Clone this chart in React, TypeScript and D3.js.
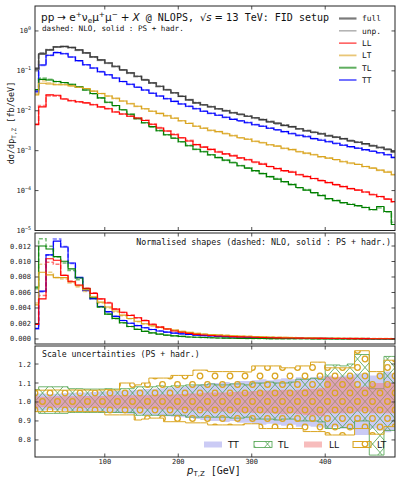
import React from 'react';
import * as d3 from 'd3';

// bin centres of the pT,Z histogram [GeV], 10 GeV wide bins
const ptBins = d3.range(5, 500, 10);
const xTicks = [100, 200, 300, 400];
const topTicks = [1e-5, 1e-4, 1e-3, 1e-2, 1e-1, 1];
const topTickExp = ['\u22125', '\u22124', '\u22123', '\u22122', '\u22121', '0'];
const midTicks = [0, 0.002, 0.004, 0.006, 0.008, 0.01, 0.012];
const botTicks = [0.8, 0.9, 1.0, 1.1, 1.2];

// dsigma/dpT,Z [fb/GeV], PS + hadr. (solid)
const fullPS = [0.112, 0.266, 0.335, 0.398, 0.41, 0.387, 0.335, 0.282, 0.224, 0.188, 0.158, 0.13, 0.106, 0.089, 0.073, 0.0596, 0.05, 0.041, 0.0335, 0.0282, 0.023, 0.0188, 0.0158, 0.0141, 0.0126, 0.0112, 0.01, 0.0089, 0.0082, 0.0073, 0.0067, 0.006, 0.0053, 0.0049, 0.0043, 0.004, 0.00355, 0.00316, 0.0029, 0.00266, 0.00237, 0.00218, 0.002, 0.00178, 0.00163, 0.0015, 0.00133, 0.00122, 0.00109, 0.00094];
const unpPS = [0.108, 0.26, 0.33, 0.392, 0.405, 0.38, 0.33, 0.279, 0.222, 0.186, 0.156, 0.128, 0.105, 0.088, 0.072, 0.059, 0.0495, 0.0405, 0.0332, 0.0279, 0.0228, 0.0187, 0.0157, 0.014, 0.0125, 0.0111, 0.0099, 0.0088, 0.0081, 0.0072, 0.0066, 0.0059, 0.0052, 0.0048, 0.0042, 0.0039, 0.0035, 0.0031, 0.00285, 0.0026, 0.00232, 0.00213, 0.00196, 0.00174, 0.0016, 0.00146, 0.0013, 0.00119, 0.00106, 0.00091];
const llPS = [0.0045, 0.0125, 0.025, 0.0245, 0.0198, 0.0178, 0.0168, 0.0158, 0.0142, 0.0125, 0.0112, 0.0093, 0.0083, 0.0073, 0.0066, 0.0057, 0.0046, 0.0037, 0.0031, 0.0025, 0.0021, 0.00175, 0.00142, 0.00123, 0.00108, 0.00093, 0.00083, 0.00074, 0.00066, 0.00059, 0.00052, 0.00046, 0.0004, 0.000355, 0.000316, 0.00029, 0.00025, 0.000224, 0.0002, 0.000178, 0.000158, 0.000141, 0.000126, 0.000112, 0.000103, 0.000092, 0.000079, 0.000071, 0.000061, 0.000053];
const ltPS = [0.025, 0.049, 0.047, 0.045, 0.045, 0.042, 0.039, 0.036, 0.031, 0.027, 0.0235, 0.0205, 0.0175, 0.015, 0.013, 0.0112, 0.0097, 0.0086, 0.0075, 0.0065, 0.0056, 0.0048, 0.0041, 0.00365, 0.00326, 0.003, 0.00266, 0.00237, 0.00211, 0.00194, 0.00173, 0.00158, 0.00141, 0.0013, 0.00115, 0.00106, 0.00094, 0.00087, 0.00079, 0.00071, 0.00065, 0.0006, 0.00053, 0.00049, 0.00045, 0.0004, 0.000365, 0.000326, 0.00029, 0.00025];
const tlPS = [0.034, 0.061, 0.059, 0.054, 0.051, 0.046, 0.04, 0.033, 0.027, 0.021, 0.0163, 0.0135, 0.0106, 0.0082, 0.0063, 0.005, 0.004, 0.00316, 0.00251, 0.00205, 0.00168, 0.00133, 0.00109, 0.00094, 0.00079, 0.00067, 0.00058, 0.0005, 0.00042, 0.000365, 0.000316, 0.000266, 0.000224, 0.000194, 0.000168, 0.000141, 0.000119, 0.000103, 0.000089, 0.000075, 0.000063, 0.000056, 0.00005, 0.0000447, 0.000042, 0.0000376, 0.0000335, 0.0000398, 0.00003, 0.0000141];
const ttPS = [0.031, 0.14, 0.246, 0.286, 0.269, 0.222, 0.18, 0.142, 0.118, 0.095, 0.08, 0.066, 0.054, 0.046, 0.039, 0.033, 0.0275, 0.0235, 0.02, 0.0172, 0.0148, 0.013, 0.0112, 0.0097, 0.0087, 0.0077, 0.0069, 0.0061, 0.0056, 0.005, 0.00447, 0.0041, 0.00365, 0.00335, 0.003, 0.00266, 0.00244, 0.00224, 0.002, 0.00183, 0.00168, 0.00154, 0.00137, 0.00126, 0.00115, 0.00106, 0.00097, 0.00089, 0.00079, 0.00067];

// same at NLO (dashed)
const fullNLO = [0.118, 0.28, 0.34, 0.4, 0.405, 0.38, 0.33, 0.28, 0.222, 0.186, 0.157, 0.129, 0.106, 0.088, 0.073, 0.06, 0.0495, 0.041, 0.0338, 0.028, 0.0232, 0.019, 0.0159, 0.014, 0.0127, 0.0111, 0.0101, 0.009, 0.0081, 0.0074, 0.0066, 0.0061, 0.0054, 0.0048, 0.0044, 0.004, 0.0035, 0.0032, 0.0029, 0.0027, 0.0024, 0.0022, 0.002, 0.0018, 0.00165, 0.00148, 0.00135, 0.0012, 0.0011, 0.00096];
const unpNLO = [0.114, 0.274, 0.335, 0.394, 0.4, 0.375, 0.326, 0.277, 0.22, 0.184, 0.155, 0.127, 0.104, 0.087, 0.072, 0.059, 0.049, 0.0405, 0.0334, 0.0277, 0.023, 0.0188, 0.0157, 0.0139, 0.0126, 0.011, 0.01, 0.0089, 0.008, 0.0073, 0.0065, 0.006, 0.0053, 0.0047, 0.0043, 0.0039, 0.00345, 0.0031, 0.00285, 0.0026, 0.00235, 0.00215, 0.00196, 0.00176, 0.00161, 0.00145, 0.00132, 0.00118, 0.00107, 0.00093];
const llNLO = [0.0047, 0.0135, 0.0238, 0.0232, 0.0198, 0.018, 0.0166, 0.0157, 0.0143, 0.0124, 0.0113, 0.0094, 0.0082, 0.0074, 0.0065, 0.0058, 0.0046, 0.0038, 0.0031, 0.0026, 0.0021, 0.0018, 0.00141, 0.00124, 0.00107, 0.00094, 0.00082, 0.00076, 0.00065, 0.0006, 0.00051, 0.00047, 0.0004, 0.00036, 0.00031, 0.0003, 0.00025, 0.00023, 0.0002, 0.00018, 0.00016, 0.00014, 0.000128, 0.000112, 0.000104, 0.000091, 0.00008, 0.00007, 0.000062, 0.000052];
const ltNLO = [0.027, 0.056, 0.05, 0.046, 0.045, 0.042, 0.039, 0.0355, 0.031, 0.027, 0.0233, 0.0203, 0.0175, 0.0151, 0.0129, 0.0112, 0.0098, 0.0085, 0.0075, 0.0066, 0.0056, 0.0049, 0.0041, 0.0037, 0.0032, 0.003, 0.0027, 0.0024, 0.0021, 0.00196, 0.00172, 0.0016, 0.0014, 0.00132, 0.00114, 0.00107, 0.00095, 0.00086, 0.0008, 0.0007, 0.00066, 0.00059, 0.00054, 0.00048, 0.00046, 0.0004, 0.00037, 0.00032, 0.0003, 0.00025];
const tlNLO = [0.033, 0.066, 0.061, 0.054, 0.05, 0.045, 0.039, 0.0328, 0.0265, 0.0208, 0.0162, 0.0133, 0.0105, 0.0082, 0.0064, 0.005, 0.0039, 0.0032, 0.0025, 0.00208, 0.00166, 0.00135, 0.00108, 0.00095, 0.00078, 0.00068, 0.00057, 0.00051, 0.00042, 0.00037, 0.00031, 0.00027, 0.000222, 0.000198, 0.000165, 0.000144, 0.000117, 0.000105, 0.000088, 0.000077, 0.000062, 0.000057, 0.000049, 0.000046, 0.000041, 0.000038, 0.000033, 0.000037, 0.000029, 0.000016];
const ttNLO = [0.029, 0.138, 0.245, 0.292, 0.27, 0.22, 0.178, 0.141, 0.117, 0.095, 0.079, 0.066, 0.054, 0.0458, 0.0392, 0.0328, 0.0276, 0.0233, 0.0201, 0.0171, 0.0149, 0.0129, 0.0113, 0.0098, 0.0086, 0.0078, 0.0068, 0.0062, 0.0055, 0.0051, 0.0045, 0.0041, 0.0037, 0.0033, 0.003, 0.0027, 0.0024, 0.0023, 0.002, 0.0019, 0.0017, 0.0015, 0.0014, 0.00125, 0.00117, 0.00104, 0.00098, 0.00088, 0.0008, 0.00069];

// scale uncertainty envelopes (ratio to central), PS + hadr.
const ttLo = [0.955, 0.955, 0.958, 0.956, 0.954, 0.952, 0.95, 0.95, 0.948, 0.945, 0.944, 0.942, 0.94, 0.938, 0.935, 0.932, 0.93, 0.928, 0.925, 0.922, 0.92, 0.915, 0.91, 0.905, 0.9, 0.9, 0.895, 0.9, 0.89, 0.89, 0.885, 0.88, 0.885, 0.88, 0.875, 0.88, 0.87, 0.875, 0.87, 0.865, 0.86, 0.87, 0.86, 0.855, 0.826, 0.826, 0.86, 0.85, 0.84, 0.85];
const ttHi = [1.045, 1.045, 1.042, 1.044, 1.046, 1.048, 1.05, 1.05, 1.052, 1.055, 1.056, 1.058, 1.06, 1.062, 1.065, 1.068, 1.07, 1.072, 1.075, 1.078, 1.08, 1.085, 1.09, 1.095, 1.1, 1.1, 1.105, 1.1, 1.11, 1.11, 1.115, 1.12, 1.115, 1.12, 1.125, 1.12, 1.13, 1.125, 1.13, 1.135, 1.14, 1.13, 1.14, 1.145, 1.15, 1.15, 1.14, 1.15, 1.16, 1.15];
const tlLo = [0.95, 0.94, 0.94, 0.94, 0.94, 0.945, 0.945, 0.945, 0.945, 0.945, 0.945, 0.945, 0.945, 0.945, 0.93, 0.93, 0.93, 0.93, 0.93, 0.93, 0.93, 0.92, 0.92, 0.92, 0.92, 0.92, 0.92, 0.915, 0.915, 0.92, 0.91, 0.91, 0.91, 0.905, 0.91, 0.91, 0.9, 0.9, 0.9, 0.895, 0.86, 0.86, 0.865, 0.86, 0.9, 0.9, 0.72, 0.72, 0.85, 0.85];
const tlHi = [1.065, 1.08, 1.08, 1.08, 1.08, 1.07, 1.07, 1.068, 1.068, 1.068, 1.07, 1.068, 1.07, 1.07, 1.08, 1.08, 1.08, 1.085, 1.08, 1.085, 1.085, 1.09, 1.09, 1.09, 1.095, 1.09, 1.09, 1.095, 1.095, 1.09, 1.1, 1.1, 1.105, 1.1, 1.1, 1.105, 1.12, 1.12, 1.125, 1.12, 1.195, 1.195, 1.19, 1.2, 1.25, 1.25, 1.07, 1.07, 1.24, 1.24];
const llLo = [0.97, 0.972, 0.972, 0.97, 0.97, 0.97, 0.97, 0.968, 0.97, 0.968, 0.967, 0.965, 0.965, 0.965, 0.964, 0.964, 0.962, 0.96, 0.96, 0.96, 0.958, 0.955, 0.955, 0.952, 0.95, 0.95, 0.95, 0.948, 0.945, 0.945, 0.942, 0.94, 0.94, 0.938, 0.935, 0.94, 0.935, 0.93, 0.93, 0.925, 0.94, 0.94, 0.94, 0.94, 0.95, 0.95, 0.94, 0.94, 0.94, 0.94];
const llHi = [1.03, 1.028, 1.028, 1.03, 1.03, 1.03, 1.03, 1.032, 1.03, 1.032, 1.033, 1.035, 1.035, 1.035, 1.036, 1.036, 1.038, 1.04, 1.04, 1.04, 1.042, 1.045, 1.045, 1.048, 1.05, 1.05, 1.05, 1.052, 1.055, 1.055, 1.058, 1.06, 1.06, 1.062, 1.065, 1.06, 1.065, 1.07, 1.07, 1.075, 1.133, 1.133, 1.13, 1.133, 1.08, 1.08, 1.1, 1.1, 1.1, 1.1];
const ltLo = [0.949, 0.949, 0.95, 0.949, 0.948, 0.949, 0.95, 0.949, 0.949, 0.949, 0.932, 0.932, 0.932, 0.932, 0.905, 0.91, 0.915, 0.915, 0.896, 0.896, 0.896, 0.89, 0.89, 0.89, 0.879, 0.879, 0.879, 0.879, 0.879, 0.885, 0.885, 0.86, 0.86, 0.86, 0.86, 0.86, 0.86, 0.844, 0.844, 0.844, 0.826, 0.826, 0.826, 0.826, 0.86, 0.86, 0.83, 0.83, 0.87, 0.87];
const ltHi = [1.063, 1.062, 1.063, 1.063, 1.062, 1.063, 1.063, 1.063, 1.062, 1.063, 1.065, 1.063, 1.1, 1.1, 1.09, 1.1, 1.126, 1.126, 1.126, 1.14, 1.14, 1.14, 1.168, 1.168, 1.16, 1.16, 1.16, 1.16, 1.16, 1.158, 1.19, 1.19, 1.19, 1.19, 1.18, 1.18, 1.19, 1.19, 1.21, 1.21, 1.18, 1.18, 1.18, 1.18, 1.27, 1.27, 1.16, 1.16, 1.22, 1.22];

const MONO = "'DejaVu Sans Mono', monospace";
const SANS = "'DejaVu Sans', sans-serif";

const X0 = 35, X1 = 395;
const P_TOP = {y0: 6, y1: 230.5};
const P_MID = {y0: 233, y1: 344};
const P_BOT = {y0: 346, y1: 457};

const x = d3.scaleLinear().domain([5, 495]).range([X0, X1]);
const yTop = d3.scaleLog().domain([1e-5, Math.pow(10, 0.625)]).range([P_TOP.y1, P_TOP.y0]);
const yMid = d3.scaleLinear().domain([-0.00065, 0.01368]).range([P_MID.y1, P_MID.y0]);
const yBot = d3.scaleLinear().domain([0.71, 1.295]).range([P_BOT.y1, P_BOT.y0]);

const series = [
    {name: 'TT', color: '#0000ff', ps: ttPS, nlo: ttNLO},
    {name: 'TL', color: '#008000', ps: tlPS, nlo: tlNLO},
    {name: 'LT', color: '#daa520', ps: ltPS, nlo: ltNLO},
    {name: 'LL', color: '#ff0000', ps: llPS, nlo: llNLO},
    {name: 'unp.', color: '#8c8c8c', ps: unpPS, nlo: unpNLO},
    {name: 'full', color: '#3a3a3a', ps: fullPS, nlo: fullNLO},
];

const legendTop = [
    {name: 'full', color: '#7a7a7a', w: 2.2},
    {name: 'unp.', color: '#b0b0b0', w: 1.5},
    {name: 'LL', color: '#ff0000', w: 1},
    {name: 'LT', color: '#e9c677', w: 1.8},
    {name: 'TL', color: '#5fae5f', w: 2},
    {name: 'TT', color: '#0000ff', w: 1.1},
];

const norm = (arr: number[]) => {
    const s = d3.sum(arr) * 10;
    return arr.map(v => v / s);
};

const step = (vals: number[], y: (v: number) => number) =>
    d3.line<number>().x((_, i) => x(ptBins[i])).y(v => y(v)).curve(d3.curveStep)(vals) || '';

const band = (lo: number[], hi: number[]) =>
    d3.area<number>().x((_, i) => x(ptBins[i])).y0((_, i) => yBot(lo[i])).y1(v => yBot(v)).curve(d3.curveStep)(hi) || '';

const Frame = ({y0, y1, yt, fmt}: {y0: number, y1: number, yt: {v: number, y: number}[], fmt: (i: number) => React.ReactNode}) => (
    <g>
        {xTicks.map(t => (
            <g key={t}>
                <line x1={x(t)} x2={x(t)} y1={y1} y2={y1 - 3.5} stroke="#222" strokeWidth={0.8}/>
                <line x1={x(t)} x2={x(t)} y1={y0} y2={y0 + 3.5} stroke="#222" strokeWidth={0.8}/>
            </g>
        ))}
        {yt.map((t, i) => (
            <g key={i}>
                <line x1={X0} x2={X0 + 3.5} y1={t.y} y2={t.y} stroke="#222" strokeWidth={0.8}/>
                <line x1={X1} x2={X1 - 3.5} y1={t.y} y2={t.y} stroke="#222" strokeWidth={0.8}/>
                <text x={31} y={t.y + 2.5} textAnchor="end" fontFamily={MONO} fontSize={7} fill="#222">{fmt(i)}</text>
            </g>
        ))}
        <rect x={X0} y={y0} width={X1 - X0} height={y1 - y0} fill="none" stroke="#222" strokeWidth={1}/>
    </g>
);

export default function App() {
    const midSeries = series.filter(s => ['TT', 'TL', 'LT', 'LL'].includes(s.name));

    return (
        <svg width={396} height={477} style={{position: 'absolute', left: 0, top: 0, background: '#fff'}}>
            <defs>
                <clipPath id="cTop"><rect x={X0} y={P_TOP.y0} width={X1 - X0} height={P_TOP.y1 - P_TOP.y0}/></clipPath>
                <clipPath id="cMid"><rect x={X0} y={P_MID.y0} width={X1 - X0} height={P_MID.y1 - P_MID.y0}/></clipPath>
                <clipPath id="cBot"><rect x={X0} y={P_BOT.y0} width={X1 - X0} height={P_BOT.y1 - P_BOT.y0}/></clipPath>
                <pattern id="hX" patternUnits="userSpaceOnUse" width={15} height={17}>
                    <path d="M-10,27.5L20,-6.5M5,27.5L35,-6.5M-25,27.5L5,-6.5M-10,-6.5L20,27.5M5,-6.5L35,27.5M-25,-6.5L5,27.5"
                          stroke="#4aa04a" strokeWidth={0.8}/>
                </pattern>
                <pattern id="hO" patternUnits="userSpaceOnUse" width={15} height={17}>
                    <circle cx={5} cy={2} r={2.8} fill="none" stroke="#daa520" strokeWidth={1.3}/>
                    <circle cx={5} cy={19} r={2.8} fill="none" stroke="#daa520" strokeWidth={1.3}/>
                    <circle cx={12.5} cy={10.5} r={2.8} fill="none" stroke="#daa520" strokeWidth={1.3}/>
                    <circle cx={-2.5} cy={10.5} r={2.8} fill="none" stroke="#daa520" strokeWidth={1.3}/>
                </pattern>
            </defs>

            {/* top panel: differential cross sections */}
            <g clipPath="url(#cTop)">
                {series.map(s => (
                    <path key={s.name + 'n'} d={step(s.nlo, yTop)} fill="none" stroke={s.color}
                          strokeOpacity={0.45} strokeWidth={1.8} strokeDasharray="5 1.5"/>
                ))}
                {series.map(s => (
                    <path key={s.name} d={step(s.ps, yTop)} fill="none" stroke={s.color} strokeWidth={1.1}/>
                ))}
            </g>
            <Frame y0={P_TOP.y0} y1={P_TOP.y1} yt={topTicks.map(v => ({v, y: yTop(v)}))}
                   fmt={i => <>10<tspan fontSize={5} dy={-3}>{topTickExp[i]}</tspan></>}/>

            <text x={41} y={20.5} fontFamily={SANS} fontSize={10.5} fill="#111">
                pp<tspan dx={3}>{'\u2192'}</tspan><tspan dx={3}>e</tspan><tspan fontSize={7.3} dy={-4}>+</tspan>
                <tspan dy={4}>{'\u03bd'}</tspan><tspan fontSize={7.3} dy={2}>e</tspan>
                <tspan dy={-2}>{'\u03bc'}</tspan><tspan fontSize={7.3} dy={-4}>+</tspan>
                <tspan dy={4}>{'\u03bc'}</tspan><tspan fontSize={7.3} dy={-4}>{'\u2212'}</tspan>
                <tspan dy={4} dx={3}>+</tspan><tspan dx={3} fontStyle="italic">X</tspan>
                <tspan fontFamily={MONO} fontSize={10}> @ NLOPS, </tspan>
                <tspan fontSize={10}>{'\u221a'}</tspan><tspan fontSize={10} fontStyle="italic">s</tspan>
                <tspan fontSize={10} dx={3}>=</tspan><tspan fontSize={10} dx={3}>13</tspan>
                <tspan fontFamily={MONO} fontSize={10}> TeV: FID setup</tspan>
            </text>
            <text x={42} y={31} fontFamily={MONO} fontSize={7.6} fill="#111">dashed: NLO, solid : PS + hadr.</text>

            {legendTop.map((l, i) => (
                <g key={l.name} transform={`translate(0, ${18.5 + i * 12.3})`}>
                    <line x1={339} x2={356.5} y1={0} y2={0} stroke={l.color} strokeWidth={l.w}/>
                    <text x={362} y={2.8} fontFamily={MONO} fontSize={7.9} fill="#111">{l.name}</text>
                </g>
            ))}

            <text transform={`translate(14, 123) rotate(-90)`} textAnchor="middle" fontFamily={MONO} fontSize={8.5} fill="#111">
                d{'\u03c3'}/dp<tspan fontSize={6} dy={2}>T,Z</tspan><tspan dy={-2}> [fb/GeV]</tspan>
            </text>

            {/* middle panel: normalised shapes */}
            <g clipPath="url(#cMid)">
                {midSeries.map(s => (
                    <path key={s.name + 'n'} d={step(norm(s.nlo), yMid)} fill="none" stroke={s.color}
                          strokeOpacity={0.55} strokeWidth={1.5} strokeDasharray="4 2"/>
                ))}
                {midSeries.map(s => (
                    <path key={s.name} d={step(norm(s.ps), yMid)} fill="none" stroke={s.color} strokeWidth={1.1}/>
                ))}
            </g>
            <Frame y0={P_MID.y0} y1={P_MID.y1} yt={midTicks.map(v => ({v, y: yMid(v)}))}
                   fmt={i => d3.format('.3f')(midTicks[i])}/>
            <text x={391} y={244.5} textAnchor="end" fontFamily={MONO} fontSize={8.3} fill="#111">
                Normalised shapes (dashed: NLO, solid : PS + hadr.)
            </text>

            {/* bottom panel: scale uncertainty bands */}
            <g clipPath="url(#cBot)">
                <path d={band(ttLo, ttHi)} fill="#b9b9f2" fillOpacity={0.75}/>
                <path d={band(tlLo, tlHi)} fill="url(#hX)" stroke="#4aa04a" strokeWidth={0.8}/>
                <path d={band(llLo, llHi)} fill="#f07a7a" fillOpacity={0.5}/>
                <path d={band(ltLo, ltHi)} fill="url(#hO)" stroke="#daa520" strokeWidth={1}/>
            </g>
            <Frame y0={P_BOT.y0} y1={P_BOT.y1} yt={botTicks.map(v => ({v, y: yBot(v)}))}
                   fmt={i => d3.format('.1f')(botTicks[i])}/>
            <text x={42} y={357} fontFamily={MONO} fontSize={8.2} fill="#111">Scale uncertainties (PS + hadr.)</text>

            <g fontFamily={SANS} fontSize={9} fill="#111">
                <rect x={204} y={441.5} width={18} height={6} fill="#b9b9f2" fillOpacity={0.75}/>
                <text x={228} y={448}>TT</text>
                <rect x={254} y={441.5} width={18} height={6} fill="url(#hX)" stroke="#4aa04a" strokeWidth={0.8}/>
                <text x={278} y={448}>TL</text>
                <rect x={304} y={441.5} width={18} height={6} fill="#f07a7a" fillOpacity={0.5}/>
                <text x={329} y={448}>LL</text>
                <rect x={353} y={441.5} width={18} height={6} fill="url(#hO)" stroke="#daa520" strokeWidth={1}/>
                <text x={377} y={448}>LT</text>
            </g>

            {xTicks.map(t => (
                <text key={t} x={x(t)} y={463.5} textAnchor="middle" fontFamily={MONO} fontSize={7} fill="#222">{t}</text>
            ))}
            <text x={214} y={474} textAnchor="middle" fontFamily={SANS} fontSize={10} fill="#111">
                <tspan fontStyle="italic">p</tspan><tspan fontSize={7} dy={2}>T,Z</tspan><tspan dy={-2} fontFamily={MONO}>  [GeV]</tspan>
            </text>
        </svg>
    );
}
